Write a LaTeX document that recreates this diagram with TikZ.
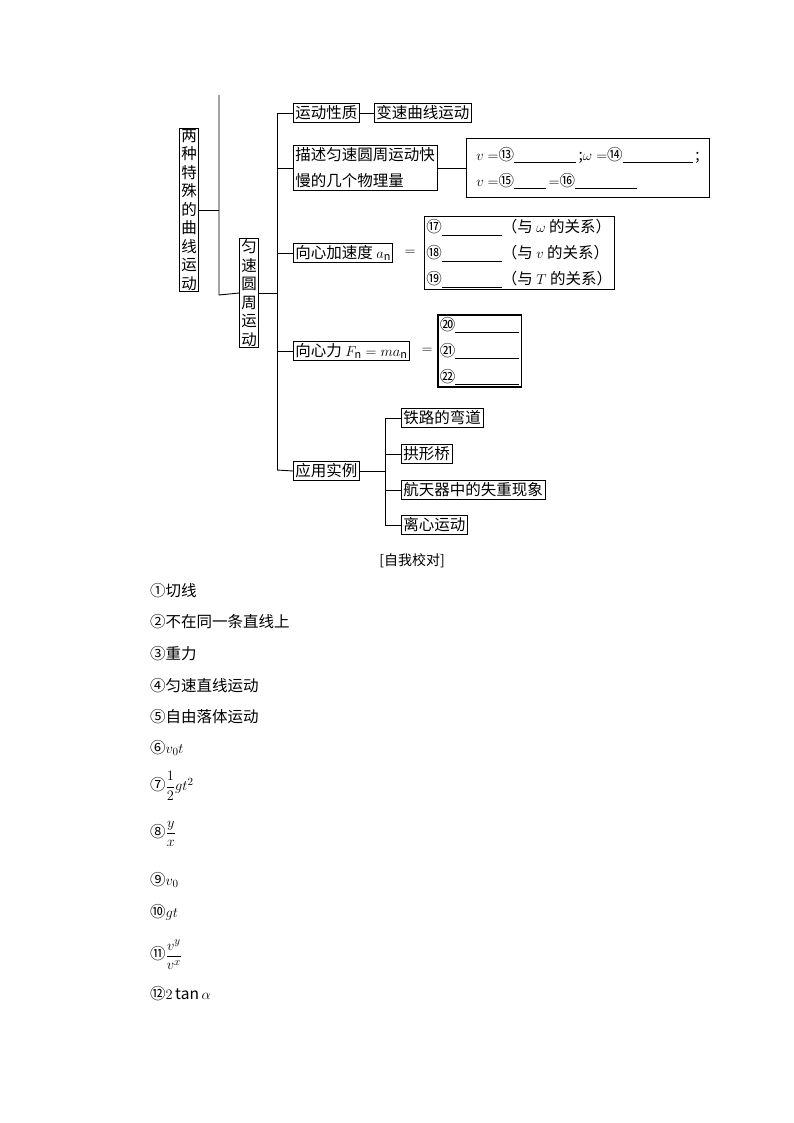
\documentclass[tikz,border=0pt]{standalone}
\usepackage{fontspec}
\usepackage{amsmath}
\setmainfont{Noto Sans CJK SC}
\usetikzlibrary{positioning}
\newcommand{\blank}[1]{\rule[-3pt]{#1}{0.6pt}}
\begin{document}
\begin{tikzpicture}[x=1pt, y=-1pt,
    box/.style={draw, line width=0.9pt, inner sep=2pt, font=\fontsize{15.5}{26}\selectfont},
    vbox/.style={box, align=center, text width=17pt, inner sep=1pt, font=\fontsize{15.5}{18.5}\selectfont},
    item/.style={anchor=west, font=\fontsize{15.5}{18}\selectfont, inner sep=0pt},
    line/.style={line width=0.9pt},
]
\useasboundingbox (0,0) rectangle (794,1123);

% Stamm
\node[vbox] (curve) at (189,210) {两\\种\\特\\殊\\的\\曲\\线\\运\\动};
\node[vbox] (circ) at (249,293) {匀\\速\\圆\\周\\运\\动};
\coordinate (t1) at (219,95);
\coordinate (b1) at (219,295);
\draw[line] (t1) -- (b1) -- (circ.west);
\draw[line] (curve.east) -- (curve.east -| t1);

% Aeste
\coordinate (t2) at (277,113);
\coordinate (b2) at (277,470);
\draw[line] (t2) -- (b2);
\draw[line] (circ.east) -- (circ.east -| t2);

\node[box, anchor=west] (kind) at (293,113) {运动性质};
\node[box, right=14pt of kind] (kindv) {变速曲线运动};
\draw[line] (t2) -- (kind.west);
\draw[line] (kind) -- (kindv);

\node[box, anchor=west, align=left] (desc) at (293,168) {描述匀速圆周运动快\\慢的几个物理量};
\node[box, anchor=west, align=left, minimum height=59pt, minimum width=243pt] (descv) at (466,168)
    {$v=$⑬\blank{62pt}\,;$\omega=$⑭\blank{70pt}\,;\\$v=$⑮\blank{32pt}\,$=$⑯\blank{62pt}};
\draw[line] (desc.west -| t2) -- (desc.west);
\draw[line] (desc) -- (descv);

\node[box, anchor=west] (acc) at (293,253) {向心加速度 $a_{\rm n}$};
\node[font=\fontsize{15.5}{18}\selectfont] (acceq) at (410,253) {$=$};
\node[box, anchor=west, align=left] (accv) at (424,253)
    {⑰\blank{60pt}（与 $\omega$ 的关系）\\⑱\blank{60pt}（与 $v$ 的关系）\\⑲\blank{60pt}（与 $T$ 的关系）};
\draw[line] (acc.west -| t2) -- (acc.west);

\node[box, anchor=west] (force) at (293,351) {向心力 $F_{\rm n}=ma_{\rm n}$};
\node[font=\fontsize{15.5}{18}\selectfont] (forceeq) at (427,351) {$=$};
\node[box, line width=1.6pt, anchor=west, align=left] (forcev) at (437,351)
    {⑳\blank{64pt}\\㉑\blank{64pt}\\㉒\blank{64pt}};
\draw[line] (force.west -| t2) -- (force.west);

\node[box, anchor=west] (app) at (293,471) {应用实例};
\draw[line] (b2) -- (app.west);
\coordinate (t3) at (385,418);
\coordinate (b3) at (385,525);
\draw[line] (t3) -- (b3);
\draw[line] (app.east) -- (app.east -| t3);
\node[box, anchor=west] (rail) at (401,418) {铁路的弯道};
\node[box, anchor=west] (bridge) at (401,454) {拱形桥};
\node[box, anchor=west] (space) at (401,490) {航天器中的失重现象};
\node[box, anchor=west] (cent) at (401,525) {离心运动};
\foreach \n in {rail,bridge,space,cent}
    \draw[line] (\n.west -| t3) -- (\n.west);

% Selbstkontrolle
\node[font=\fontsize{14}{17}\selectfont] (check) at (412,561) {[自我校对]};
\node[item] (a1) at (150,591) {①切线};
\node[item] (a2) at (150,622) {②不在同一条直线上};
\node[item] (a3) at (150,654) {③重力};
\node[item] (a4) at (150,686) {④匀速直线运动};
\node[item] (a5) at (150,717) {⑤自由落体运动};
\node[item] (a6) at (150,748) {⑥$v_0t$};
\node[item] (a7) at (150,786) {⑦$\dfrac{1}{2}gt^2$};
\node[item] (a8) at (150,834) {⑧$\dfrac{y}{x}$};
\node[item] (a9) at (150,880) {⑨$v_0$};
\node[item] (a10) at (150,912) {⑩$gt$};
\node[item] (a11) at (150,955) {⑪$\dfrac{v^y}{v^x}$};
\node[item] (a12) at (150,994) {⑫$2\tan\alpha$};
\end{tikzpicture}
\end{document}
